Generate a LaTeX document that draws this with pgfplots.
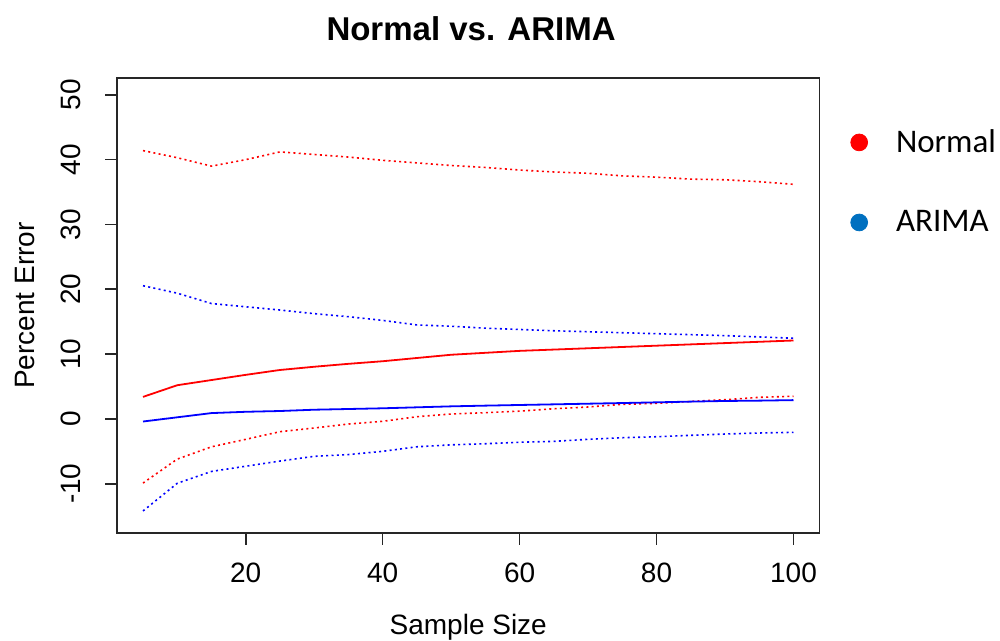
\documentclass[border=0pt]{standalone}
\usepackage{fontspec}
\setmainfont{Liberation Sans}
\newfontfamily\carlito{Carlito}
\usepackage{pgfplots}
\pgfplotsset{compat=1.18}
\definecolor{legblue}{RGB}{0,112,192}
\begin{document}
\begin{tikzpicture}
\useasboundingbox (0,0) rectangle (500pt,320.5pt);
\begin{axis}[
  at={(58.5pt,54pt)}, anchor=south west,
  scale only axis, width=351.25pt, height=227.5pt,
  xmin=1.2, xmax=103.8, ymin=-17.6, ymax=52.6,
  axis line style={line width=0.8pt, black!85},
  xtick={20,40,60,80,100}, xticklabels={20,40,60,80,100},
  ytick={-10,0,10,20,30,40,50}, yticklabels={-10,0,10,20,30,40,50},
  xtick pos=bottom, ytick pos=left, tick align=outside,
  major tick length=6pt,
  tick style={line width=0.8pt, black!85},
  tick label style={font=\fontsize{14}{16}\selectfont},
  xticklabel style={anchor=north, inner sep=0pt, yshift=-9pt},
  yticklabel style={xshift=-12pt, rotate=90, anchor=south, inner sep=0pt},
  title={\bfseries Normal vs. ARIMA},
  title style={at={(axis description cs:0.504,1.083)}, anchor=center, font=\fontsize{16.5}{18}\selectfont, inner sep=0pt},
  xlabel={Sample Size},
  xlabel style={at={(axis description cs:0.5,-0.2066)}, anchor=center, font=\fontsize{14}{16}\selectfont, inner sep=0pt},
  ylabel={Percent Error},
  ylabel style={at={(axis description cs:-0.131,0.5)}, anchor=center, rotate=0, font=\fontsize{14}{16}\selectfont, inner sep=0pt},
  legend image code/.code={\fill[#1] (0pt,0pt) circle (4.2pt);},
  legend style={draw=none, fill=none, at={(1.0434,0.7714)}, anchor=west,
    font=\carlito\fontsize{16.5}{18}\selectfont, row sep=23.5pt, inner sep=0pt,
    column sep=12pt},
  legend cell align=left,
  clip=false,
]
\addlegendimage{red}
\addlegendentry{Normal}
\addlegendimage{legblue}
\addlegendentry{ARIMA}

% Normal mean
\addplot[red, line width=0.9pt] coordinates {
(5,3.4) (10,5.2) (15,6.0) (20,6.8) (25,7.55) (30,8.05) (35,8.5) (40,8.9) (45,9.4) (50,9.9)
(55,10.2) (60,10.5) (65,10.7) (70,10.9) (75,11.1) (80,11.3) (85,11.5) (90,11.7) (95,11.9) (100,12.1)};
% Normal upper
\addplot[red, line width=0.8pt, dash pattern=on 1pt off 1.65pt] coordinates {
(5,41.4) (10,40.3) (15,39.0) (20,40.0) (25,41.2) (30,40.8) (35,40.4) (40,39.9) (45,39.5) (50,39.1)
(55,38.8) (60,38.4) (65,38.1) (70,37.9) (75,37.5) (80,37.3) (85,37.0) (90,36.9) (95,36.6) (100,36.2)};
% Normal lower
\addplot[red, line width=0.8pt, dash pattern=on 1pt off 1.65pt] coordinates {
(5,-9.9) (10,-6.2) (15,-4.3) (20,-3.15) (25,-1.97) (30,-1.4) (35,-0.79) (40,-0.37) (45,0.34) (50,0.76)
(55,0.96) (60,1.2) (65,1.57) (70,1.84) (75,2.25) (80,2.4) (85,2.7) (90,2.96) (95,3.33) (100,3.5)};
% ARIMA mean
\addplot[blue, line width=0.9pt] coordinates {
(5,-0.4) (10,0.25) (15,0.9) (20,1.1) (25,1.22) (30,1.42) (35,1.53) (40,1.64) (45,1.79) (50,1.94)
(55,2.05) (60,2.15) (65,2.25) (70,2.35) (75,2.45) (80,2.56) (85,2.67) (90,2.77) (95,2.82) (100,2.9)};
% ARIMA upper
\addplot[blue, line width=0.8pt, dash pattern=on 1pt off 1.65pt] coordinates {
(5,20.55) (10,19.4) (15,17.8) (20,17.3) (25,16.8) (30,16.24) (35,15.77) (40,15.2) (45,14.5) (50,14.3)
(55,14.0) (60,13.8) (65,13.6) (70,13.45) (75,13.3) (80,13.15) (85,13.0) (90,12.85) (95,12.65) (100,12.45)};
% ARIMA lower
\addplot[blue, line width=0.8pt, dash pattern=on 1pt off 1.65pt] coordinates {
(5,-14.2) (10,-9.93) (15,-8.1) (20,-7.3) (25,-6.5) (30,-5.77) (35,-5.5) (40,-5.0) (45,-4.3) (50,-4.0)
(55,-3.83) (60,-3.6) (65,-3.46) (70,-3.15) (75,-2.9) (80,-2.75) (85,-2.53) (90,-2.33) (95,-2.17) (100,-2.07)};
\end{axis}
\end{tikzpicture}
\end{document}
